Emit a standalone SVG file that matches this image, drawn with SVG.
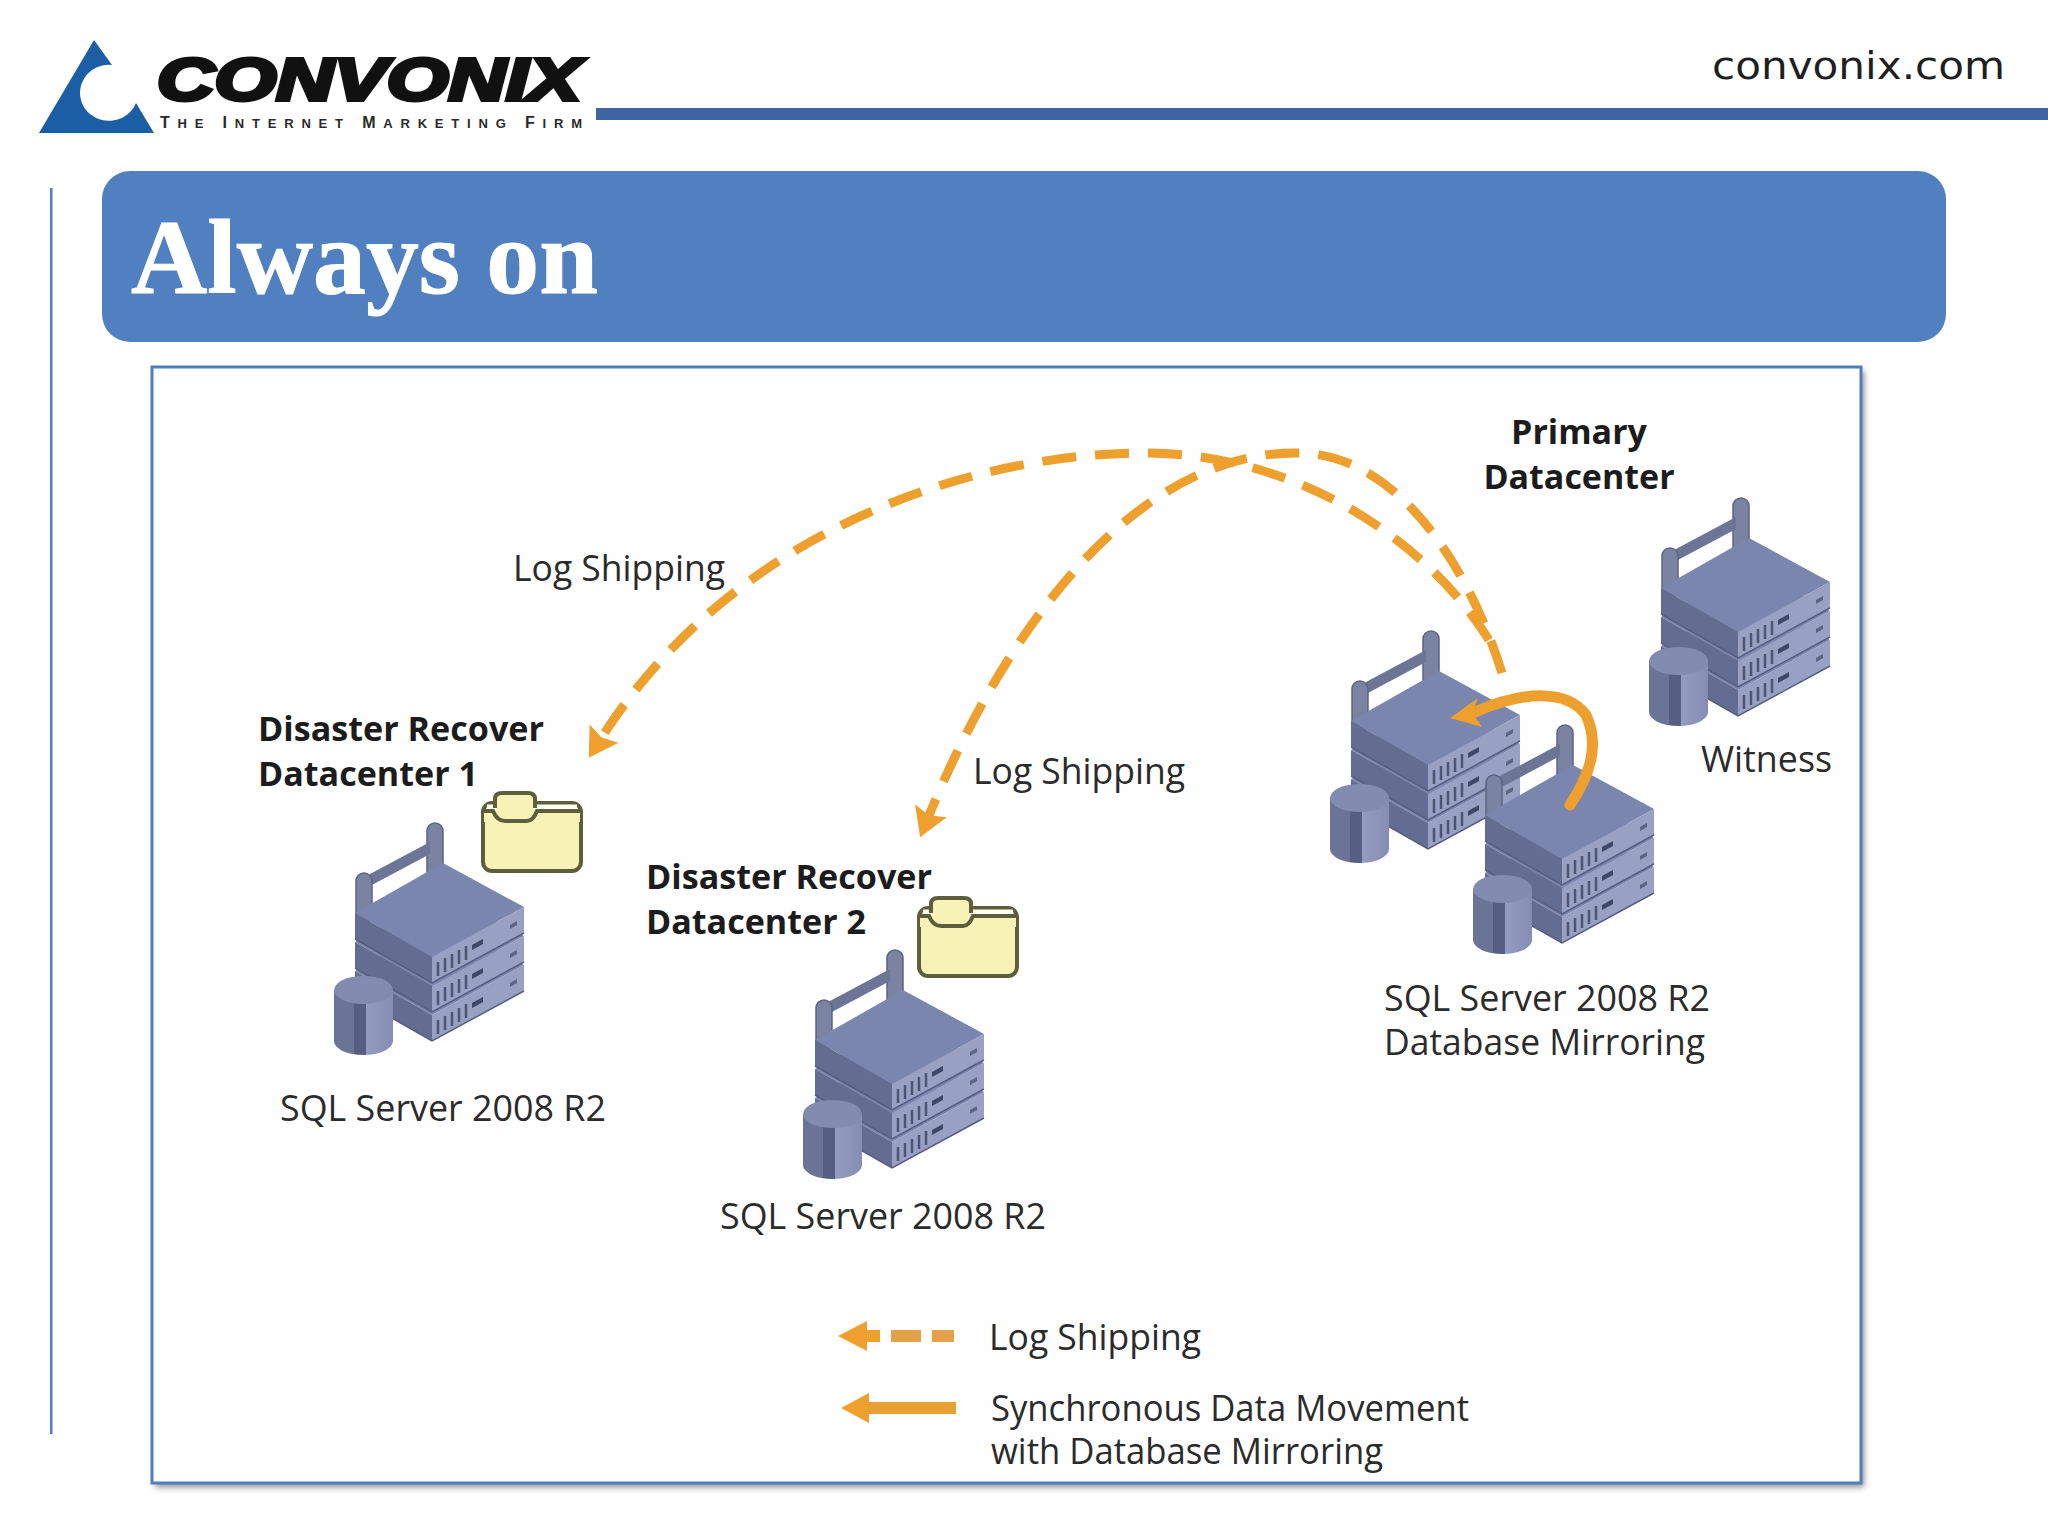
<svg xmlns="http://www.w3.org/2000/svg" width="2048" height="1536" viewBox="0 0 2048 1536">
<style>
text{font-family:"Open Sans","Noto Sans","Liberation Sans",sans-serif;font-size:36px;fill:#2b2b2b}
.b{font-weight:700;fill:#1c1c1c;font-size:34px}
.dash{fill:none;stroke:#eda02e;stroke-width:9;stroke-dasharray:34 19}
.solid{fill:none;stroke:#eda02e;stroke-width:11;stroke-linecap:round}
.top{fill:#7a86ad}.lf{fill:#636c91}.rt{fill:#98a0c3}.vent{stroke:#4d5474;stroke-width:2.5;fill:none}
.post{fill:#7b83a3;stroke:#5c6484;stroke-width:1.5}
.fold{fill:#f7f3b7;stroke:#5e5e3c;stroke-width:4;stroke-linejoin:round}
</style>
<defs>
<marker id="head" markerUnits="userSpaceOnUse" markerWidth="38" markerHeight="38" refX="16" refY="20" viewBox="0 0 40 40" orient="auto">
<path d="M38,20 L8,2 L13,20 L8,38 Z" fill="#eda02e"/>
</marker>
<linearGradient id="cyl" x1="0" x2="1" y1="0" y2="0">
<stop offset="0" stop-color="#6b7497"/><stop offset=".34" stop-color="#6b7497"/><stop offset=".34" stop-color="#565f82"/><stop offset=".54" stop-color="#565f82"/><stop offset=".54" stop-color="#949cc2"/><stop offset="1" stop-color="#858db2"/>
</linearGradient>
<filter id="soft" x="-5%" y="-5%" width="110%" height="110%"><feGaussianBlur stdDeviation="3"/></filter>
<g id="slab">
<polygon class="top" points="35,143 123,93 204,137 112,187"/>
<polygon class="lf" points="35,143 112,187 112,213 35,169"/>
<polygon class="rt" points="112,187 204,137 204,163 112,213"/>
<path class="vent" d="M118,192v14M125,188v14M132,184v14M139,180v14M146,176v14"/>
<polygon points="152,175 163,169 163,174 152,180" fill="#3f4666"/>
<polygon points="190,155 197,151 197,155 190,159" fill="#5d6585"/>
<path d="M35,169 L112,213 L204,163" fill="none" stroke="#565d80" stroke-width="1.5"/>
</g>
<g id="server">
<rect class="post" x="107" y="53" width="16" height="60" rx="8"/>
<polygon points="50,104 110,72 110,84 50,116" fill="#6d7596"/>
<rect class="post" x="36" y="103" width="16" height="50" rx="8"/>
<use href="#slab" y="58"/>
<use href="#slab" y="29"/>
<use href="#slab"/>
</g>
<g id="cylinder">
<path d="M14,220 V271 A29.5,14 0 0 0 73,271 V220 Z" fill="url(#cyl)"/>
<ellipse cx="43.5" cy="220" rx="29.5" ry="14" fill="#828bb0"/>
</g>
<g id="folder">
<rect class="fold" x="2" y="11" width="98" height="68" rx="9"/>
<path d="M6,15 H96" stroke="#fffff4" stroke-width="5"/>
<path class="fold" d="M14,16 V7 Q14,1 21,1 H47 Q54,1 54,7 V16"/>
<path d="M3,19 H12 Q16,29 24,29 H46 Q52,29 56,19 H99 V30 H3 Z" fill="#f7f3b7"/>
<path d="M16,8 H52 V20 H16Z" fill="#f7f3b7"/>
<path d="M3,19 H12 Q16,29 24,29 H46 Q52,29 56,19 H99" fill="none" stroke="#5e5e3c" stroke-width="4"/>
</g>
</defs>
<rect width="2048" height="1536" fill="#fff"/>

<g id="header">
<path d="M94,40 L112,65 A29,28 0 1 0 136,103 L154,133 L39,133 Z" fill="#1b5ea6"/>
<text x="157" y="100" textLength="424" lengthAdjust="spacingAndGlyphs" style="font-family:'Liberation Sans',sans-serif;font-size:60px;font-weight:700;font-style:italic;fill:#111;stroke:#111;stroke-width:4">CONVONIX</text>
<text x="160" y="128" textLength="422" lengthAdjust="spacing" style="font-family:'Liberation Sans',sans-serif;font-size:16px;font-weight:700;fill:#2a2a2a"><tspan>T</tspan><tspan font-size="13">HE </tspan><tspan>I</tspan><tspan font-size="13">NTERNET </tspan><tspan>M</tspan><tspan font-size="13">ARKETING </tspan><tspan>F</tspan><tspan font-size="13">IRM</tspan></text>
<rect x="596" y="108" width="1452" height="12" fill="#3f66a0"/>
<text x="1712" y="79" textLength="293" lengthAdjust="spacingAndGlyphs" style="font-family:'DejaVu Sans',sans-serif;font-size:37px;fill:#1f1f1f">convonix.com</text>
</g>

<g id="title">
<rect x="50" y="188" width="2.5" height="1246" fill="#4f7fbe"/>
<rect x="102" y="171" width="1844" height="171" rx="28" fill="#5080bf"/>
<text x="131" y="293" textLength="467" lengthAdjust="spacingAndGlyphs" style="font-family:'Liberation Serif',serif;font-size:106px;font-weight:700;fill:#fff;stroke:#fff;stroke-width:1">Always on</text>
</g>

<g id="frame">
<rect x="155" y="371" width="1709" height="1116" fill="#8a8a8a" filter="url(#soft)"/>
<rect x="152" y="367" width="1709" height="1116" fill="#fefefe" stroke="#4f7fbe" stroke-width="3"/>
</g>

<g id="dr1">
<use href="#server" x="320" y="770"/>
<use href="#cylinder" x="320" y="770"/>
<use href="#folder" x="481" y="792"/>
<text class="b" x="258" y="741" textLength="286" lengthAdjust="spacingAndGlyphs">Disaster Recover</text>
<text class="b" x="258" y="786" textLength="220" lengthAdjust="spacingAndGlyphs">Datacenter 1</text>
<text x="280" y="1121" textLength="326" lengthAdjust="spacingAndGlyphs">SQL Server 2008 R2</text>
</g>
<g id="dr2">
<use href="#server" x="780" y="897"/>
<use href="#cylinder" x="789" y="894"/>
<use href="#folder" x="917" y="897"/>
<text class="b" x="646" y="889" textLength="286" lengthAdjust="spacingAndGlyphs">Disaster Recover</text>
<text class="b" x="646" y="934" textLength="220" lengthAdjust="spacingAndGlyphs">Datacenter 2</text>
<text x="720" y="1229" textLength="326" lengthAdjust="spacingAndGlyphs">SQL Server 2008 R2</text>
</g>
<g id="witness">
<use href="#server" x="1626" y="445"/>
<use href="#cylinder" x="1635" y="441"/>
<text x="1701" y="772" textLength="131" lengthAdjust="spacingAndGlyphs">Witness</text>
</g>
<g id="primary">
<text class="b" x="1579" y="444" text-anchor="middle">Primary</text>
<text class="b" x="1579" y="489" text-anchor="middle">Datacenter</text>
<use href="#server" x="1316" y="578"/>
<use href="#cylinder" x="1316" y="578"/>
<use href="#server" x="1450" y="672"/>
<use href="#cylinder" x="1459" y="669"/>
<text x="1384" y="1011" textLength="326" lengthAdjust="spacingAndGlyphs">SQL Server 2008 R2</text>
<text x="1384" y="1055" textLength="321" lengthAdjust="spacingAndGlyphs">Database Mirroring</text>
</g>

<g id="connectors">
<path class="dash" d="M1489,640 C1430,545 1300,450 1136,453 C960,456 730,535 600,740" marker-end="url(#head)"/>
<path class="dash" d="M1502,673 C1470,570 1400,455 1300,453 C1130,450 1000,640 928,818" marker-end="url(#head)"/>
<path class="solid" d="M1570,805 C1590,775 1600,745 1586,715 C1568,690 1525,690 1475,712"/>
<polygon points="1450,718 1478,698 1472,712 1482,727" fill="#eda02e"/>
</g>

<g id="labels">
<text x="513" y="581" textLength="212" lengthAdjust="spacingAndGlyphs">Log Shipping</text>
<text x="973" y="784" textLength="212" lengthAdjust="spacingAndGlyphs">Log Shipping</text>
</g>

<g id="legend">
<polygon points="838,1336 867,1321 867,1351" fill="#f0a030"/>
<rect x="865" y="1330" width="15" height="12" fill="#eda02e"/>
<rect x="891" y="1330" width="30" height="12" fill="#e3a24a"/>
<rect x="932" y="1330" width="22" height="12" fill="#e3a24a"/>
<polygon points="841,1408 869,1393 869,1423" fill="#eda02e"/>
<rect x="867" y="1402" width="89" height="12" fill="#e8a035"/>
<text x="989" y="1350" textLength="212" lengthAdjust="spacingAndGlyphs">Log Shipping</text>
<text x="991" y="1421" textLength="478" lengthAdjust="spacingAndGlyphs">Synchronous Data Movement</text>
<text x="991" y="1464" textLength="392" lengthAdjust="spacingAndGlyphs">with Database Mirroring</text>
</g>
</svg>
